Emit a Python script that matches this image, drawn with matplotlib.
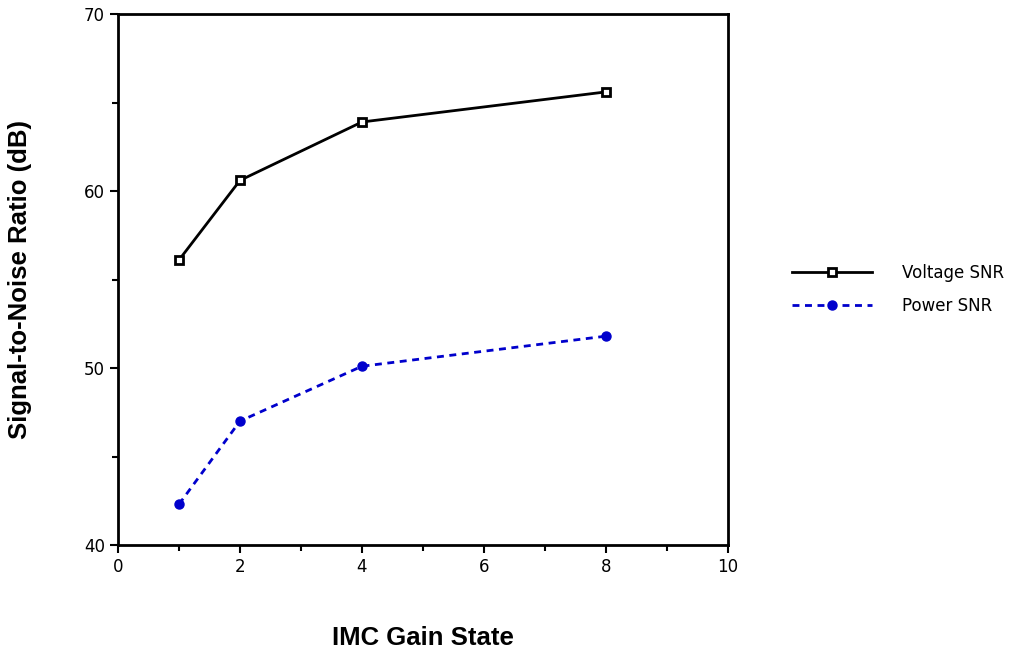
import numpy as np
import matplotlib.pyplot as plt
from matplotlib.ticker import MultipleLocator

gain_state = [1, 2, 4, 8]
voltage_snr = [56.1, 60.6, 63.9, 65.6]
power_snr = [42.3, 47.0, 50.1, 51.8]

fig = plt.figure(figsize=(10.23, 6.58), dpi=100)
ax = fig.add_axes([0.1153, 0.1717, 0.5963, 0.8070])

ax.plot(gain_state, voltage_snr, color='black', lw=2, marker='s', ms=6,
        mfc='white', mec='black', mew=2, label='Voltage SNR')
ax.plot(gain_state, power_snr, color='#0000cc', lw=2, ls=(0, (2.5, 2)), marker='o', ms=6.5,
        mfc='#0000cc', mec='#0000cc', label='Power SNR')

ax.set_xlim(0, 10)
ax.set_ylim(40, 70)
ax.xaxis.set_major_locator(MultipleLocator(2))
ax.xaxis.set_minor_locator(MultipleLocator(1))
ax.yaxis.set_major_locator(MultipleLocator(10))
ax.yaxis.set_minor_locator(MultipleLocator(5))
ax.tick_params(which='both', direction='out', width=1.5, labelsize=12)
ax.tick_params(which='major', length=6)
ax.tick_params(which='minor', length=4)
for s in ax.spines.values():
    s.set_linewidth(2)

ax.set_xlabel('IMC Gain State', fontsize=18.5, fontweight='bold',
              family='Liberation Sans', labelpad=36)
ax.set_ylabel('Signal-to-Noise Ratio (dB)', fontsize=18.5, fontweight='bold',
              family='Liberation Sans', labelpad=37)

fig.legend(loc='center left', bbox_to_anchor=(0.76, 0.56), frameon=False,
           fontsize=12, handlelength=4.8, handletextpad=1.8, labelspacing=0.9)

fig.savefig('out.png', dpi=100)
